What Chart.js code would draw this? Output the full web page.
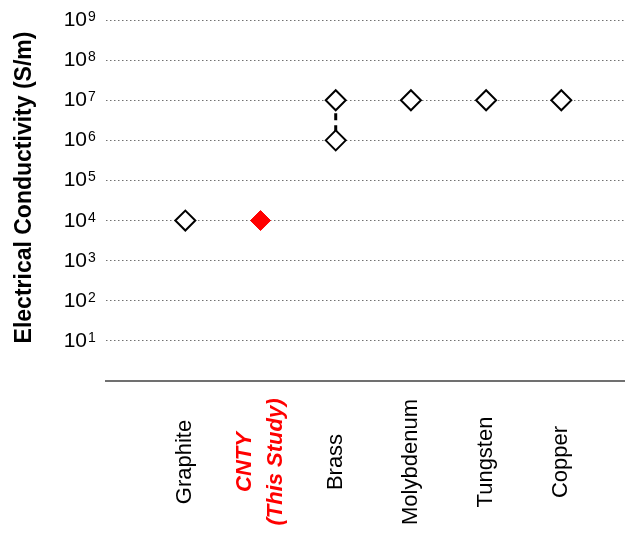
<!DOCTYPE html>
<html>
<head>
<meta charset="utf-8">
<script src="https://cdn.jsdelivr.net/npm/chart.js@4.4.1/dist/chart.umd.min.js"></script>
<style>
  body { margin: 0; background: #fff; }
  #wrap { width: 625px; height: 533px; }
</style>
</head>
<body>
<div id="wrap"><canvas id="myChart"></canvas></div>
<script>
const materials = ["Graphite", "CNTY\n(This Study)", "Brass", "Molybdenum", "Tungsten", "Copper"];
const conductivityHigh = [1e4, 1e4, 1e7, 1e7, 1e7, 1e7];
const conductivityLow = [null, null, 1e6, null, null, null];
const highlightIndex = 1;
const yExponents = [1, 2, 3, 4, 5, 6, 7, 8, 9];
const yTitle = "Electrical Conductivity (S/m)";

const FONT = '"Liberation Sans", Arial, sans-serif';

// points built from the arrays above
let refPoints = [];
let studyPoints = [];
let rangeLine = [];
materials.forEach(function (m, i) {
  let p = { x: i, y: conductivityHigh[i] };
  if (i == highlightIndex) studyPoints.push(p);
  else refPoints.push(p);
  if (conductivityLow[i] != null) {
    refPoints.push({ x: i, y: conductivityLow[i] });
    if (rangeLine.length) rangeLine.push({ x: i, y: null });
    rangeLine.push({ x: i, y: conductivityLow[i] });
    rangeLine.push({ x: i, y: conductivityHigh[i] });
  }
});

const textPlugin = {
  id: "textPlugin",
  afterDraw(chart) {
    const ctx = chart.ctx;
    const xs = chart.scales.x;
    const ys = chart.scales.y;
    const area = chart.chartArea;
    ctx.save();
    ctx.fillStyle = "#000";

    // y tick labels 10^n
    yExponents.forEach(function (e) {
      const py = ys.getPixelForValue(Math.pow(10, e));
      ctx.font = "21px " + FONT;
      ctx.textAlign = "right";
      ctx.textBaseline = "alphabetic";
      ctx.fillText("10", area.left - 19, py + 6);
      ctx.font = "14px " + FONT;
      ctx.textAlign = "left";
      ctx.fillText(String(e), area.left - 18, py + 1);
    });

    // y title
    ctx.save();
    ctx.translate(25, (area.top + area.bottom) / 2 - 13);
    ctx.rotate(-Math.PI / 2);
    ctx.font = "bold 23px " + FONT;
    ctx.textAlign = "center";
    ctx.textBaseline = "middle";
    ctx.fillText(yTitle, 0, 0);
    ctx.restore();

    // x labels, rotated
    materials.forEach(function (m, i) {
      const px = xs.getPixelForValue(i);
      const lines = m.split("\n");
      lines.forEach(function (line, j) {
        const lx = px + (j - (lines.length - 1) / 2) * 31;
        ctx.save();
        ctx.translate(lx, area.bottom + 81);
        ctx.rotate(-Math.PI / 2);
        if (i == highlightIndex) {
          ctx.fillStyle = "#ff0000";
          ctx.font = "italic bold 22px " + FONT;
        } else {
          ctx.fillStyle = "#000";
          ctx.font = "22px " + FONT;
        }
        ctx.textAlign = "center";
        ctx.textBaseline = "middle";
        ctx.fillText(line, 0, 0);
        ctx.restore();
      });
    });
    ctx.restore();
  }
};

let canvas = document.getElementById("myChart");
let chart = new Chart(canvas, {
  type: "scatter",
  data: {
    datasets: [
      {
        data: rangeLine,
        showLine: true,
        spanGaps: false,
        borderColor: "#000",
        borderWidth: 3,
        borderDash: [7, 5],
        borderDashOffset: 4,
        pointRadius: 0,
        order: 3,
      },
      {
        data: refPoints,
        pointStyle: "rectRot",
        pointRadius: 10,
        pointBackgroundColor: "#fff",
        pointBorderColor: "#000",
        pointBorderWidth: 2,
        order: 2,
      },
      {
        data: studyPoints,
        pointStyle: "rectRot",
        pointRadius: 10,
        pointBackgroundColor: "#ff0000",
        pointBorderColor: "#ff0000",
        pointBorderWidth: 1,
        order: 1,
      },
    ],
  },
  options: {
    responsive: true,
    maintainAspectRatio: false,
    animation: false,
    layout: { autoPadding: false, padding: { top: 20, right: 0, left: 0, bottom: 0 } },
    plugins: { legend: { display: false }, tooltip: { enabled: false } },
    scales: {
      x: {
        type: "linear",
        min: -1.055,
        max: 5.847,
        ticks: { display: false },
        grid: { display: false },
        border: { color: "#707070", width: 2 },
        afterFit: function (scale) { scale.height = 152; },
      },
      y: {
        type: "logarithmic",
        min: 1,
        max: 1e9,
        ticks: { display: false },
        afterBuildTicks: function (scale) {
          scale.ticks = yExponents.map(function (e) { return { value: Math.pow(10, e) }; });
        },
        grid: { color: "#707070", lineWidth: 1, drawTicks: false },
        border: { display: false, dash: [1.5, 2.5] },
        afterFit: function (scale) { scale.width = 106; },
      },
    },
  },
  plugins: [textPlugin],
});
</script>
</body>
</html>
